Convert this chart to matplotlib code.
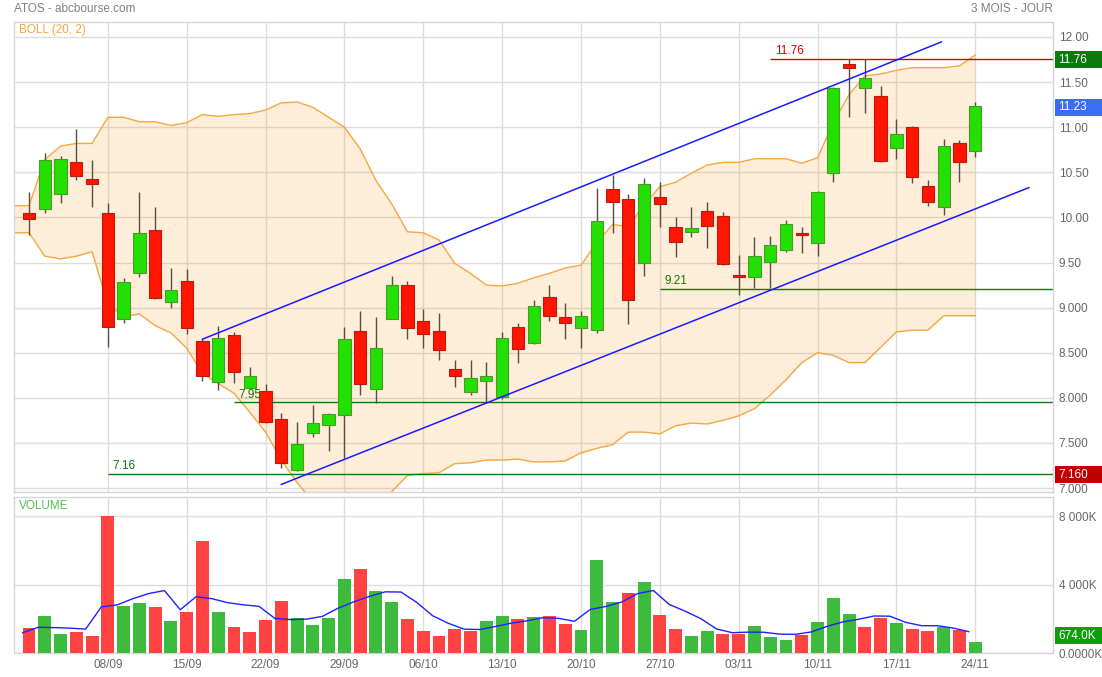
import numpy as np
import matplotlib
matplotlib.use('Agg')
import matplotlib.pyplot as plt
from matplotlib.patches import Rectangle

plt.rcParams['font.family'] = ['Liberation Sans', 'DejaVu Sans']

# ---- data (ATOS, daily, 01/09 -> 24/11) ----
date_labels = ['08/09', '15/09', '22/09', '29/09', '06/10', '13/10',
               '20/10', '27/10', '03/11', '10/11', '17/11', '24/11']
date_pos = [5, 10, 15, 20, 25, 30, 35, 40, 45, 50, 55, 60]

opens = [10.05, 10.09, 10.26, 10.61, 10.43, 10.05, 8.87, 9.38, 9.86, 9.06,
         9.29, 8.63, 8.18, 8.70, 8.11, 8.08, 7.77, 7.20, 7.61, 7.70,
         7.81, 8.74, 8.10, 8.87, 9.25, 8.85, 8.74, 8.32, 8.06, 8.19,
         8.01, 8.78, 8.61, 9.12, 8.90, 8.77, 8.75, 10.31, 10.20, 9.49,
         10.23, 9.89, 9.84, 10.07, 10.02, 9.35, 9.34, 9.51, 9.64, 9.83,
         9.72, 10.49, 11.70, 11.43, 11.35, 10.77, 11.00, 10.35, 10.12, 10.82,
         10.74]
highs = [10.28, 10.71, 10.68, 10.98, 10.64, 10.16, 9.33, 10.28, 10.12, 9.44,
         9.43, 8.65, 8.80, 8.73, 8.34, 8.15, 7.83, 7.73, 7.92, 7.83,
         8.78, 8.96, 8.90, 9.35, 9.29, 8.98, 8.94, 8.42, 8.42, 8.40,
         8.73, 8.83, 9.08, 9.25, 9.05, 8.96, 10.33, 10.47, 10.26, 10.44,
         10.39, 10.00, 10.12, 10.17, 10.06, 9.58, 9.78, 9.79, 9.97, 9.89,
         10.29, 11.44, 11.76, 11.76, 11.46, 11.09, 11.01, 10.41, 10.87, 10.86,
         11.28]
lows = [9.80, 10.05, 10.16, 10.41, 10.12, 8.56, 8.83, 9.34, 9.10, 9.00,
        8.71, 8.19, 8.09, 8.16, 8.10, 7.72, 7.22, 7.19, 7.57, 7.41,
        7.33, 8.03, 7.94, 8.87, 8.65, 8.55, 8.42, 8.12, 8.03, 7.94,
        7.99, 8.39, 8.60, 8.85, 8.65, 8.55, 8.72, 9.83, 8.82, 9.35,
        9.89, 9.56, 9.78, 9.66, 9.47, 9.14, 9.22, 9.22, 9.62, 9.61,
        9.57, 10.39, 11.11, 11.16, 10.61, 10.65, 10.38, 10.13, 10.03, 10.39,
        10.67]
closes = [9.98, 10.64, 10.65, 10.46, 10.37, 8.78, 9.28, 9.83, 9.11, 9.20,
          8.77, 8.24, 8.66, 8.29, 8.24, 7.73, 7.28, 7.49, 7.72, 7.82,
          8.65, 8.15, 8.55, 9.25, 8.77, 8.71, 8.53, 8.24, 8.22, 8.24,
          8.66, 8.54, 9.02, 8.91, 8.83, 8.91, 9.96, 10.17, 9.08, 10.37,
          10.15, 9.73, 9.88, 9.90, 9.48, 9.34, 9.57, 9.69, 9.93, 9.80,
          10.28, 11.43, 11.66, 11.55, 10.63, 10.92, 10.45, 10.17, 10.79, 10.61,
          11.23]

# volume in K
volumes = [1500, 2180, 1130, 1230, 1010, 8000, 2760, 2950, 2720, 1890,
           2390, 6560, 2390, 1550, 1260, 1940, 3050, 2040, 1670, 2060,
           4320, 4920, 3640, 3000, 2000, 1300, 1030, 1420, 1300, 1890,
           2200, 2000, 2100, 2200, 1690, 1360, 5450, 2980, 3500, 4150,
           2240, 1420, 1010, 1320, 1130, 1130, 1590, 970, 780, 1070,
           1810, 3210, 2280, 1550, 2040, 1750, 1420, 1300, 1550, 1360,
           674]
vol_ma = [1200, 1520, 1500, 1470, 1410, 2710, 2826, 3190, 3488, 3664,
          2542, 3302, 3190, 2956, 2830, 2740, 2038, 1968, 1992, 2152,
          2628, 3002, 3322, 3588, 3576, 2972, 2194, 1750, 1410, 1388,
          1568, 1762, 1898, 2078, 2038, 1870, 2560, 2736, 2996, 3488,
          3664, 2858, 2464, 2028, 1424, 1202, 1236, 1228, 1120, 1108,
          1244, 1568, 1830, 1984, 2178, 2166, 1808, 1612, 1612, 1476,
          1261]

# Bollinger (20, 2), starting one session before the first candle
boll_up = [10.13, 10.13, 10.64, 10.79, 10.82, 10.82, 11.11, 11.11, 11.06, 11.06,
           11.02, 11.05, 11.14, 11.12, 11.14, 11.15, 11.19, 11.27, 11.28, 11.22,
           11.11, 11.00, 10.76, 10.41, 10.15, 9.84, 9.83, 9.75, 9.49, 9.38,
           9.25, 9.24, 9.27, 9.33, 9.38, 9.44, 9.47, 9.72, 9.92, 9.90,
           10.14, 10.34, 10.39, 10.49, 10.58, 10.61, 10.61, 10.65, 10.65, 10.65,
           10.60, 10.66, 11.05, 11.36, 11.57, 11.59, 11.63, 11.66, 11.66, 11.66,
           11.68, 11.80]
boll_low = [9.83, 9.83, 9.57, 9.54, 9.57, 9.62, 9.04, 8.90, 8.93, 8.80,
            8.72, 8.55, 8.27, 8.16, 8.05, 7.84, 7.62, 7.31, 7.06, 6.85,
            6.70, 6.62, 6.65, 6.80, 6.96, 7.14, 7.16, 7.17, 7.27, 7.28,
            7.31, 7.31, 7.32, 7.29, 7.29, 7.30, 7.39, 7.44, 7.48, 7.62,
            7.62, 7.60, 7.69, 7.72, 7.71, 7.75, 7.80, 7.88, 8.03, 8.20,
            8.39, 8.50, 8.47, 8.39, 8.39, 8.56, 8.73, 8.75, 8.75, 8.91,
            8.91, 8.91]

# horizontal levels: value, first session, colour
levels = [11.76, 9.21, 7.95, 7.16]
level_start = [47, 40, 13, 5]
level_colors = ['#e00000', '#0a7a0a', '#0a7a0a', '#0a7a0a']

# channel lines (session, price)
trend_up = [(11.0, 8.65), (57.85, 11.945)]
trend_down = [(16.0, 7.04), (63.4, 10.33)]

price_ticks = [7.0, 7.5, 8.0, 8.5, 9.0, 9.5, 10.0, 10.5, 11.0, 11.5, 12.0]
price_tick_labels = ['7.000', '7.500', '8.000', '8.500', '9.000', '9.50',
                     '10.00', '10.50', '11.00', '11.50', '12.00']
vol_ticks = [0, 4000, 8000]
vol_tick_labels = ['0.0000K', '4 000K', '8 000K']

# ---- layout ----
W, H = 1102, 677
fig = plt.figure(figsize=(W / 100, H / 100), dpi=100)
ax1 = fig.add_axes([14 / W, 1 - 492 / H, 1039 / W, 470 / H])
ax2 = fig.add_axes([14 / W, 1 - 653.3 / H, 1039 / W, 156.3 / H])
XMIN, XMAX = -0.95, 64.93

grid_c = '#dcdcdc'
text_c = '#666666'
for ax in (ax1, ax2):
    ax.set_xlim(XMIN, XMAX)
    ax.set_axisbelow(True)
    for s in ax.spines.values():
        s.set_color('#d6d6d6')
        s.set_linewidth(1)
    ax.grid(True, color=grid_c, lw=1)
    ax.yaxis.tick_right()
    ax.tick_params(length=0, labelsize=8.5, labelcolor=text_c, pad=4)
    ax.set_xticks(date_pos)

# ---- price panel ----
ax1.set_ylim(6.956, 12.166)
ax1.set_yticks(price_ticks)
ax1.set_yticklabels(price_tick_labels)
ax1.set_xticklabels([])

bx = np.arange(-1, len(boll_up) - 1)
ax1.fill_between(bx, boll_low, boll_up, color='#f5a742', alpha=0.2, lw=0, zorder=1)
ax1.plot(bx, boll_up, color='#f5a742', lw=1, zorder=1.5)
ax1.plot(bx, boll_low, color='#f5a742', lw=1, zorder=1.5)

for lv, st, col in zip(levels, level_start, level_colors):
    ax1.hlines(lv, st, XMAX, color=col, lw=1, zorder=2)
    ax1.text(st + 0.3, lv + 0.02, f'{lv:.2f}', color=col, fontsize=8.5,
             va='bottom', ha='left', zorder=6)

x = np.arange(len(closes))
o = np.array(opens)
c = np.array(closes)
up = c >= o
body_low = np.minimum(o, c)
body_h = np.maximum(np.abs(c - o), 0.02)
ax1.vlines(x, lows, highs, color='#5a4e42', lw=1, zorder=3)
ax1.bar(x[up], body_h[up], bottom=body_low[up], width=0.78,
        color='#22e000', edgecolor='#4a9a2a', lw=0.8, zorder=4)
ax1.bar(x[~up], body_h[~up], bottom=body_low[~up], width=0.78,
        color='#ff1500', edgecolor='#b81c10', lw=0.8, zorder=4)

for tl in (trend_up, trend_down):
    ax1.plot([p[0] for p in tl], [p[1] for p in tl], color='#1a1aff', lw=1.1, zorder=5)

ax1.text(5 / 1039, 1 - 8 / 470, 'BOLL (20, 2)', transform=ax1.transAxes,
         color='#f5a742', fontsize=8.5, va='center', ha='left')

# ---- volume panel ----
v = np.array(volumes)
vol_up = np.r_[False, np.diff(c) > 0]
ax2.set_ylim(0, 9124)
ax2.set_yticks(vol_ticks)
ax2.set_yticklabels(vol_tick_labels)
ax2.set_xticklabels(date_labels)
ax2.bar(x[vol_up], v[vol_up], width=0.82, color='#3dbb3d', zorder=3)
ax2.bar(x[~vol_up], v[~vol_up], width=0.82, color='#ff4242', zorder=3)
ax2.plot(x - 0.41, vol_ma, color='#2020ff', lw=1, zorder=4)
ax2.text(5 / 1039, 1 - 9 / 156.3, 'VOLUME', transform=ax2.transAxes,
         color='#55c055', fontsize=8.5, va='center', ha='left')

# ---- header ----
fig.text(14 / W, 1 - 9 / H, 'ATOS - abcbourse.com', color='#808080',
         fontsize=8.5, va='center', ha='left')
fig.text(1053 / W, 1 - 9 / H, '3 MOIS - JOUR', color='#808080',
         fontsize=8.5, va='center', ha='right')


# ---- value badges on the right axis ----
def badge(ax, val, label, fc, dy=0):
    ypix = ax.transData.transform((0, val))[1] + dy
    fig.patches.append(Rectangle((1055 / W, (ypix - 8.5) / H), 47 / W, 17 / H,
                                 transform=fig.transFigure, fc=fc, ec='none',
                                 zorder=5))
    fig.text(1058 / W, ypix / H, label, color='white', fontsize=8.5,
             va='center', ha='left', zorder=6)


badge(ax1, 11.76, '11.76', '#0a7a0a', dy=-1)
badge(ax1, 11.23, '11.23', '#3a6ff5', dy=-1)
badge(ax1, 7.16, '7.160', '#c00000', dy=-1)
badge(ax2, volumes[-1], '674.0K', '#0aa00a', dy=6)

fig.savefig('out.png', dpi=100)
